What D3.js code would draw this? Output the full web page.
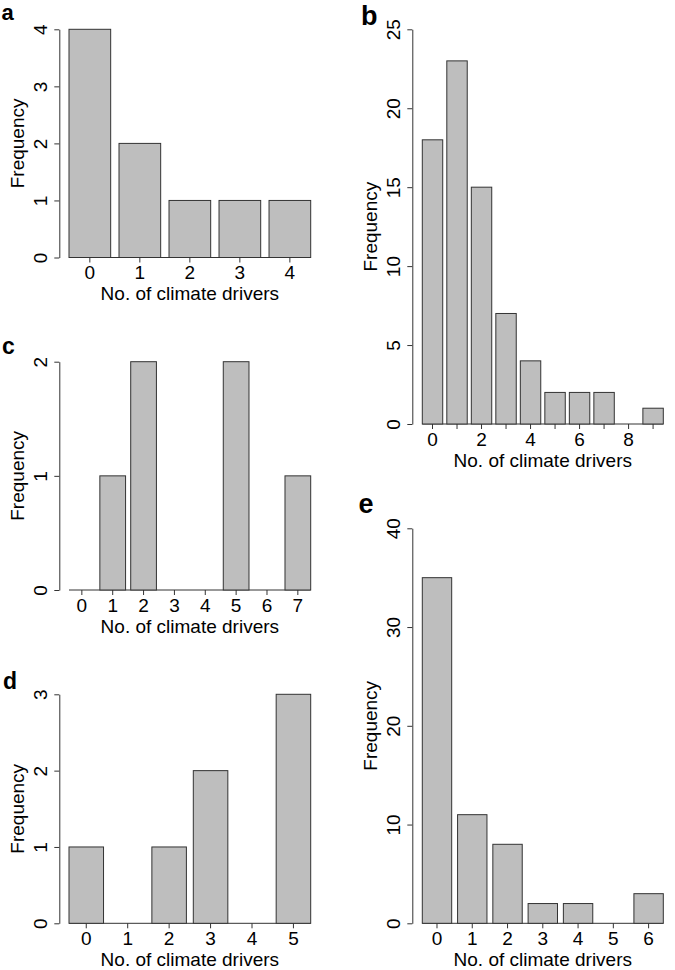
<!DOCTYPE html>
<html>
<head>
<meta charset="utf-8">
<script src="https://cdn.jsdelivr.net/npm/d3@7"></script>
<style>
  html, body { margin: 0; padding: 0; background: #fff; }
  svg { display: block; }
  text { font-family: "Liberation Sans", Arial, Helvetica, sans-serif; fill: #000; }
</style>
</head>
<body>
<svg id="chart" width="675" height="970"></svg>
<script>
// ---- data ----
const catsA = [0, 1, 2, 3, 4];
const freqA = [4, 2, 1, 1, 1];
const yTicksA = [0, 1, 2, 3, 4];

const catsB = [0, 1, 2, 3, 4, 5, 6, 7, 8, 9];
const freqB = [18, 23, 15, 7, 4, 2, 2, 2, 0, 1];
const yTicksB = [0, 5, 10, 15, 20, 25];
const xLabelsB = [0, 2, 4, 6, 8];

const catsC = [0, 1, 2, 3, 4, 5, 6, 7];
const freqC = [0, 1, 2, 0, 0, 2, 0, 1];
const yTicksC = [0, 1, 2];

const catsD = [0, 1, 2, 3, 4, 5];
const freqD = [1, 0, 1, 2, 0, 3];
const yTicksD = [0, 1, 2, 3];

const catsE = [0, 1, 2, 3, 4, 5, 6];
const freqE = [35, 11, 8, 2, 2, 0, 3];
const yTicksE = [0, 10, 20, 30, 40];

const xTitle = "No. of climate drivers";
const yTitle = "Frequency";

// ---- layout ----
const LEFT = { axisX: 59.3, barL: 69, barR: 310.7 };
const RIGHT = { axisX: 412.3, barL: 422.3, barR: 663.3 };

const panels = [
  { letter: "a", cats: catsA, freq: freqA, yTicks: yTicksA, xLabels: catsA, col: LEFT, yTop: 29.3, y0: 257.5, lx: 1.5, ly: 20, lsize: 22 },
  { letter: "b", cats: catsB, freq: freqB, yTicks: yTicksB, xLabels: xLabelsB, col: RIGHT, yTop: 29.3, y0: 424, lx: 361, ly: 24.5, lsize: 27 },
  { letter: "c", cats: catsC, freq: freqC, yTicks: yTicksC, xLabels: catsC, col: LEFT, yTop: 361.7, y0: 590, lx: 2, ly: 354, lsize: 23 },
  { letter: "d", cats: catsD, freq: freqD, yTicks: yTicksD, xLabels: catsD, col: LEFT, yTop: 694.3, y0: 923.3, lx: 3, ly: 688.5, lsize: 23 },
  { letter: "e", cats: catsE, freq: freqE, yTicks: yTicksE, xLabels: catsE, col: RIGHT, yTop: 528.3, y0: 923.3, lx: 358.5, ly: 512.5, lsize: 27 }
];

const svg = d3.select("#chart");
const FONT = 19;
const EDGE = "#333";

panels.forEach(p => {
  const g = svg.append("g");
  const x = d3.scaleBand()
    .domain(p.cats)
    .range([p.col.barL, p.col.barR])
    .paddingInner(1 / 6)
    .paddingOuter(0);
  const y = d3.scaleLinear()
    .domain([0, d3.max(p.yTicks)])
    .range([p.y0, p.yTop]);

  // baseline
  g.append("line")
    .attr("x1", p.col.barL).attr("x2", p.col.barR)
    .attr("y1", p.y0).attr("y2", p.y0)
    .attr("stroke", EDGE).attr("stroke-width", 1);

  // bars
  g.selectAll("rect.bar")
    .data(p.cats.map((c, i) => ({ c, v: p.freq[i] })))
    .enter().append("rect")
    .attr("class", "bar")
    .attr("x", d => x(d.c))
    .attr("width", x.bandwidth())
    .attr("y", d => y(d.v))
    .attr("height", d => y(0) - y(d.v))
    .attr("fill", "#bebebe")
    .attr("stroke", EDGE)
    .attr("stroke-width", 1);

  // y axis
  const yAxis = d3.axisLeft(y)
    .tickValues(p.yTicks)
    .tickSize(5)
    .tickSizeOuter(0)
    .tickFormat(d3.format("d"));
  const ya = g.append("g")
    .attr("transform", `translate(${p.col.axisX},0)`)
    .call(yAxis);
  ya.select(".domain").attr("stroke", EDGE).attr("stroke-width", 1);
  ya.selectAll(".tick line").attr("stroke", EDGE).attr("stroke-width", 1);
  ya.selectAll(".tick text")
    .attr("transform", "rotate(-90)")
    .attr("x", 0).attr("y", -12).attr("dy", 0)
    .attr("text-anchor", "middle")
    .attr("fill", "#000")
    .style("font-size", FONT + "px")
    .style("font-family", '"Liberation Sans", Arial, sans-serif');

  // x axis
  const xAxis = d3.axisBottom(x)
    .tickSize(5)
    .tickSizeOuter(0)
    .tickFormat(d => p.xLabels.includes(d) ? String(d) : "");
  const xa = g.append("g")
    .attr("transform", `translate(0,${p.y0})`)
    .call(xAxis);
  xa.select(".domain").remove();
  xa.selectAll(".tick line").attr("stroke", EDGE).attr("stroke-width", 1);
  xa.selectAll(".tick text")
    .attr("y", 21.5).attr("dy", 0)
    .attr("fill", "#000")
    .style("font-size", FONT + "px")
    .style("font-family", '"Liberation Sans", Arial, sans-serif');

  // titles
  g.append("text")
    .attr("x", (p.col.barL + p.col.barR) / 2)
    .attr("y", p.y0 + 42.5)
    .attr("text-anchor", "middle")
    .style("font-size", FONT + "px")
    .text(xTitle);
  const midY = (p.y0 + p.yTop) / 2;
  g.append("text")
    .attr("transform", `translate(${p.col.axisX - 35.5},${midY}) rotate(-90)`)
    .attr("text-anchor", "middle")
    .style("font-size", FONT + "px")
    .text(yTitle);

  // panel letter
  g.append("text")
    .attr("x", p.lx).attr("y", p.ly)
    .style("font-size", p.lsize + "px")
    .style("font-weight", "bold")
    .text(p.letter);
});
</script>
</body>
</html>
